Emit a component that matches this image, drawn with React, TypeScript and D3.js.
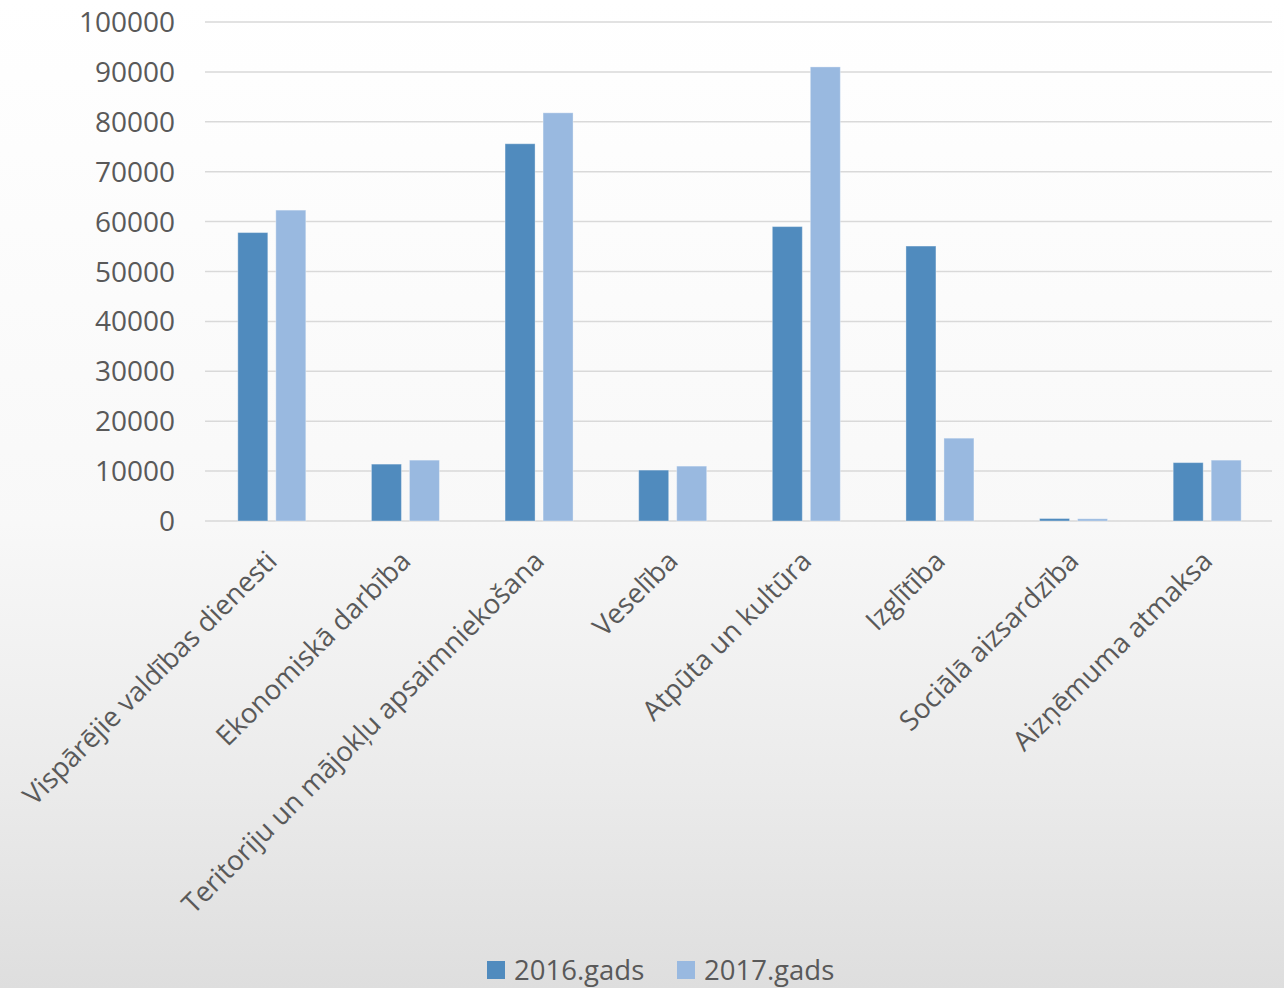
import React from "react";
import * as d3 from "d3";

const categories = [
  "Vispārējie valdības dienesti",
  "Ekonomiskā darbība",
  "Teritoriju un mājokļu apsaimniekošana",
  "Veselība",
  "Atpūta un kultūra",
  "Izglītība",
  "Sociālā aizsardzība",
  "Aizņēmuma atmaksa",
];
const series2016 = [57800, 11400, 75600, 10200, 59000, 55100, 500, 11700];
const series2017 = [62300, 12200, 81800, 11000, 91000, 16600, 450, 12200];
const seriesNames = ["2016.gads", "2017.gads"];
const yTicks = [0, 10000, 20000, 30000, 40000, 50000, 60000, 70000, 80000, 90000, 100000];

const W = 1284;
const H = 988;
const colors = ["#508bbe", "#99b9e0"];
const font = "'Open Sans', sans-serif";

export default function App() {
  const x = d3.scaleBand<string>().domain(categories).range([205, 1274]);
  const y = d3.scaleLinear().domain([0, 100000]).range([521, 22]);
  const barW = 30;
  const gap = 8;
  const series = [series2016, series2017];
  return (
    <svg width={W} height={H} style={{ position: "absolute", left: 0, top: 0 }}>
      <defs>
        <linearGradient id="bg" x1="0" y1="0" x2="0" y2="1">
          <stop offset="0%" stopColor="#ffffff" />
          <stop offset="53%" stopColor="#f8f8f8" />
          <stop offset="79%" stopColor="#ebebeb" />
          <stop offset="100%" stopColor="#dedede" />
        </linearGradient>
      </defs>
      <rect x={0} y={0} width={W} height={H} fill="url(#bg)" />
      {yTicks.map((t) => (
        <g key={t}>
          <line x1={205} x2={1272} y1={y(t)} y2={y(t)} stroke="#d9d9d9" strokeWidth={1.5} />
          <text
            x={175}
            y={y(t)}
            dy="0.36em"
            textAnchor="end"
            fontFamily={font}
            fontSize={28}
            fill="#595959"
          >
            {t}
          </text>
        </g>
      ))}
      {categories.map((c, i) => {
        const cx = (x(c) as number) + x.bandwidth() / 2;
        return (
          <g key={c}>
            {series.map((s, j) => {
              const bx = j === 0 ? cx - gap / 2 - barW : cx + gap / 2;
              return (
                <rect
                  key={j}
                  x={bx}
                  y={y(s[i])}
                  width={barW}
                  height={y(0) - y(s[i])}
                  fill={colors[j]}
                  stroke="rgba(255,255,255,0.35)"
                  strokeWidth={1}
                />
              );
            })}
            <text
              transform={`translate(${cx},${556}) rotate(-45)`}
              textAnchor="end"
              dy="0.35em"
              fontFamily={font}
              fontSize={27.5}
              fill="#595959"
            >
              {c}
            </text>
          </g>
        );
      })}
      {seriesNames.map((n, j) => {
        const lx = j === 0 ? 487 : 677;
        return (
          <g key={n}>
            <rect x={lx} y={961} width={18} height={18} fill={colors[j]} />
            <text x={lx + 27} y={980} fontFamily={font} fontSize={27.5} fill="#595959">
              {n}
            </text>
          </g>
        );
      })}
    </svg>
  );
}
